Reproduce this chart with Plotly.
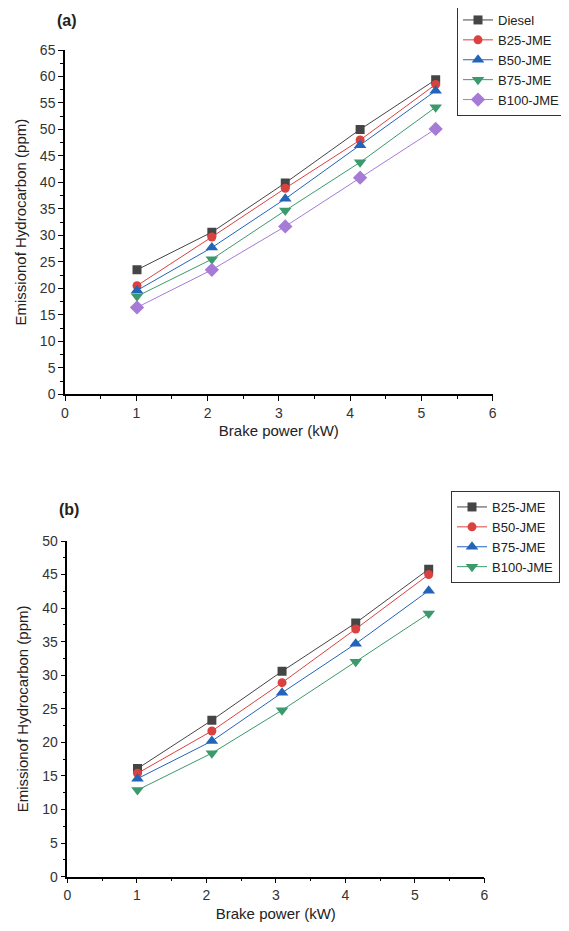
import plotly.graph_objects as go

# ---- data ----
bp_a = [1.01, 2.06, 3.09, 4.14, 5.20]
diesel_a = [23.5, 30.6, 39.9, 50.0, 59.4]
b25_a = [20.5, 29.7, 38.9, 48.0, 58.5]
b50_a = [19.6, 27.7, 36.9, 47.0, 57.3]
b75_a = [18.5, 25.5, 34.7, 43.8, 54.2]
b100_a = [16.4, 23.5, 31.7, 40.9, 50.1]

bp_b = [1.01, 2.08, 3.09, 4.15, 5.20]
b25_b = [16.1, 23.3, 30.6, 37.8, 45.8]
b50_b = [15.4, 21.7, 28.9, 36.9, 45.0]
b75_b = [14.6, 20.2, 27.4, 34.7, 42.6]
b100_b = [12.9, 18.4, 24.8, 32.0, 39.2]

names_a = ["Diesel", "B25-JME", "B50-JME", "B75-JME", "B100-JME"]
names_b = ["B25-JME", "B50-JME", "B75-JME", "B100-JME"]

GRAY = "#454545"
RED = "#d9423f"
BLUE = "#2364b8"
GREEN = "#3a9a6b"
PURPLE = "#a57bd6"

styles_a = [(GRAY, "square", 9), (RED, "circle", 9), (BLUE, "triangle-up", 11),
            (GREEN, "triangle-down", 11), (PURPLE, "diamond", 11)]
styles_b = [(GRAY, "square", 9), (RED, "circle", 9), (BLUE, "triangle-up", 11),
            (GREEN, "triangle-down", 11)]

FONT = "Arial, Liberation Sans, sans-serif"

fig = go.Figure()
for name, ys, (c, sym, sz) in zip(names_a, [diesel_a, b25_a, b50_a, b75_a, b100_a], styles_a):
    fig.add_trace(go.Scatter(x=bp_a, y=ys, name=name, mode="lines+markers",
                             line=dict(color=c, width=1),
                             marker=dict(color=c, symbol=sym, size=sz),
                             xaxis="x", yaxis="y", legend="legend"))
for name, ys, (c, sym, sz) in zip(names_b, [b25_b, b50_b, b75_b, b100_b], styles_b):
    fig.add_trace(go.Scatter(x=bp_b, y=ys, name=name, mode="lines+markers",
                             line=dict(color=c, width=1),
                             marker=dict(color=c, symbol=sym, size=sz),
                             xaxis="x2", yaxis="y2", legend="legend2"))

# page body has an 8px margin; lay out in window pixels and compensate
OFF = 8
W, H = 569 - OFF, 931 - OFF

def px_x(p):
    return (p - OFF) / W

def px_y(p):
    return 1 - (p - OFF) / H

def ax_common():
    return dict(showline=True, linecolor="black", linewidth=1.5, ticks="outside",
                ticklen=5, tickwidth=1.2, tickcolor="black", showgrid=False,
                zeroline=False, mirror=False,
                tickfont=dict(family=FONT, size=14, color="#333333"),
                title_font=dict(family=FONT, size=15, color="#222222"),
                minor=dict(ticks="outside", ticklen=3, tickwidth=1, tickcolor="black", showgrid=False))

xa = ax_common(); xa.update(domain=[px_x(65), px_x(492.7)], range=[0, 6], dtick=1, tick0=0,
                            anchor="y", title=dict(text="Brake power (kW)", standoff=6))
xa["minor"]["dtick"] = 0.5
ya = ax_common(); ya.update(domain=[px_y(394.3), px_y(50)], range=[0, 65], dtick=5, tick0=0,
                            anchor="x", title=dict(text="Emissionof Hydrocarbon (ppm)", standoff=10))
ya["minor"]["dtick"] = 2.5
xb = ax_common(); xb.update(domain=[px_x(67.3), px_x(484.3)], range=[0, 6], dtick=1, tick0=0,
                            anchor="y2", title=dict(text="Brake power (kW)", standoff=6))
xb["minor"]["dtick"] = 0.5
yb = ax_common(); yb.update(domain=[px_y(876.7), px_y(541)], range=[0, 50], dtick=5, tick0=0,
                            anchor="x2", title=dict(text="Emissionof Hydrocarbon (ppm)", standoff=10))
yb["minor"]["dtick"] = 2.5

legend_style = dict(bgcolor="white", bordercolor="#333333", borderwidth=1,
                    font=dict(family=FONT, size=13, color="#222222"),
                    tracegroupgap=0, itemsizing="trace", itemwidth=30,
                    xanchor="left", yanchor="top")

fig.update_layout(
    width=W, height=H, margin=dict(l=0, r=0, t=0, b=0, autoexpand=False),
    plot_bgcolor="white", paper_bgcolor="white",
    xaxis=xa, yaxis=ya, xaxis2=xb, yaxis2=yb,
    legend=dict(x=px_x(457), y=px_y(4), **legend_style),
    legend2=dict(x=px_x(451), y=px_y(491), **legend_style),
    annotations=[
        dict(text="<b>(a)</b>", x=px_x(55), y=px_y(21), xref="paper", yref="paper",
             xanchor="left", yanchor="middle", showarrow=False,
             font=dict(family=FONT, size=16, color="#222222")),
        dict(text="<b>(b)</b>", x=px_x(57), y=px_y(509), xref="paper", yref="paper",
             xanchor="left", yanchor="middle", showarrow=False,
             font=dict(family=FONT, size=16, color="#222222")),
    ],
)

fig.write_html("out.html")
